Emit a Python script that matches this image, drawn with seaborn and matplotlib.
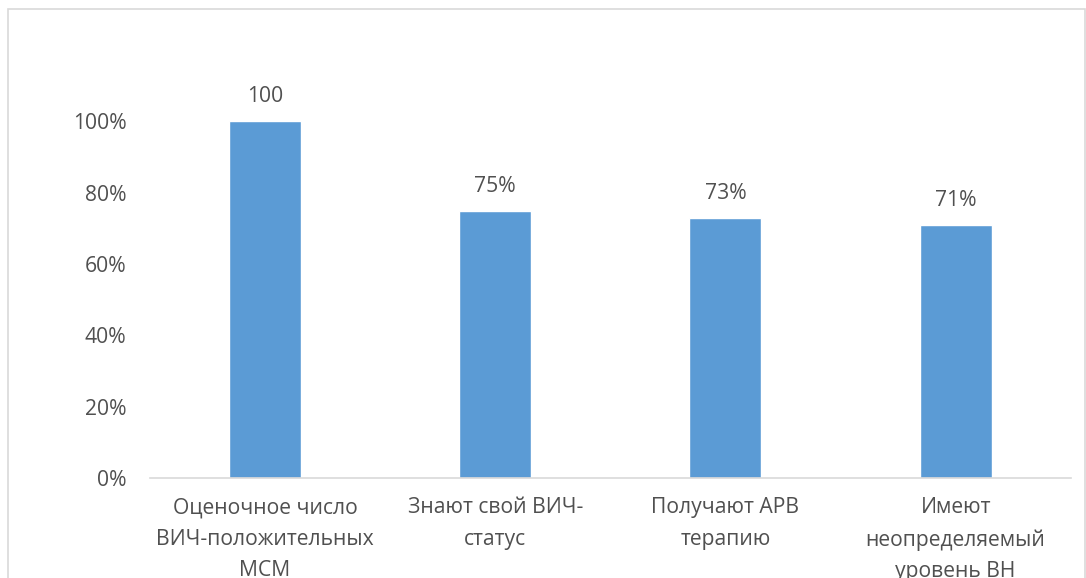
import matplotlib
matplotlib.use("Agg")
import matplotlib.pyplot as plt
from matplotlib.patches import Rectangle
import seaborn as sns

categories = [
    "Оценочное число\nВИЧ-положительных\nМСМ",
    "Знают свой ВИЧ-\nстатус",
    "Получают АРВ\nтерапию",
    "Имеют\nнеопределяемый\nуровень ВН",
]
values = [1.00, 0.75, 0.73, 0.71]
value_labels = ["100", "75%", "73%", "71%"]
y_ticks = [0.0, 0.2, 0.4, 0.6, 0.8, 1.0]
y_tick_labels = ["0%", "20%", "40%", "60%", "80%", "100%"]

sns.set_theme(style="white")
plt.rcParams["font.family"] = ["Open Sans", "DejaVu Sans"]

text_color = "#505050"
bar_color = "#5B9BD5"
fs = 15.2

fig = plt.figure(figsize=(10.86, 5.78), dpi=100)
ax = fig.add_axes([0.138, 0.173, 0.848, 0.7405])

sns.barplot(x=categories, y=values, color=bar_color, width=0.313,
            saturation=1, ax=ax)

ax.set_ylim(0, 1.2)
ax.set_xlim(-0.5, len(categories) - 0.5)
ax.set_yticks(y_ticks)
ax.set_yticklabels(y_tick_labels)
ax.tick_params(axis="y", length=0, pad=17, labelsize=fs, labelcolor=text_color)
ax.tick_params(axis="x", length=0, pad=14, labelsize=fs, labelcolor=text_color)
for t in ax.get_xticklabels():
    t.set_linespacing(1.65)
ax.set_xlabel("")
ax.set_ylabel("")

for side in ["top", "right", "left"]:
    ax.spines[side].set_visible(False)
ax.spines["bottom"].set_color("#D9D9D9")
ax.spines["bottom"].set_linewidth(1.2)

for i, (v, lab) in enumerate(zip(values, value_labels)):
    ax.annotate(lab, (i, v), xytext=(0, 10), textcoords="offset points",
                ha="center", va="bottom", fontsize=fs, color=text_color)

# chart frame
fig.patches.append(Rectangle((8 / 1086, -0.02), 1077 / 1086, 1 - 9 / 578 + 0.02,
                             transform=fig.transFigure, fill=False,
                             edgecolor="#D9D9D9", linewidth=1.2))

fig.savefig("out.png", dpi=100, facecolor="white")
